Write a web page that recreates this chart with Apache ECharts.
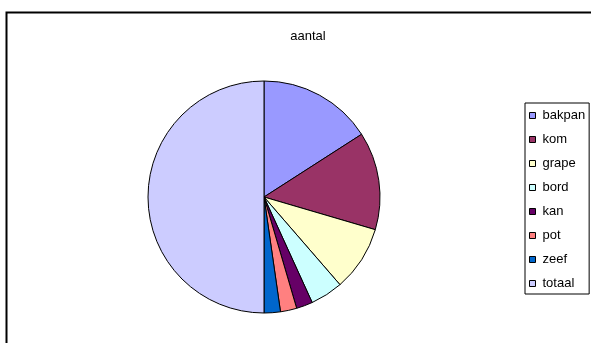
<!DOCTYPE html>
<html>
<head>
<meta charset="utf-8">
<script src="https://cdn.jsdelivr.net/npm/echarts@6/dist/echarts.min.js"></script>
<style>
html, body { margin: 0; padding: 0; background: #fff; }
#main { width: 591px; height: 343px; }
</style>
</head>
<body>
<div id="main"></div>
<script>
var names = ['bakpan', 'kom', 'grape', 'bord', 'kan', 'pot', 'zeef', 'totaal'];
var aantal = [14, 12, 8, 4, 2, 2, 2, 44];
var colors = ['#9999FF', '#993366', '#FFFFCC', '#CCFFFF', '#660066', '#FF8080', '#0066CC', '#CCCCFF'];

var myChart = echarts.init(document.getElementById('main'));
var pieData = names.map(function (n, i) {
    return { name: n, value: aantal[i], itemStyle: { color: colors[i] } };
});

var option = {
    animation: false,
    backgroundColor: '#fff',
    title: {
        text: 'aantal',
        left: 303,
        top: 25,
        textAlign: 'center',
        textStyle: { fontFamily: 'Liberation Sans', fontSize: 13, fontWeight: 'normal', color: '#000' }
    },
    graphic: [{
        type: 'rect',
        shape: { x: 6.5, y: 12.5, width: 600, height: 340 },
        style: { fill: null, stroke: '#000', lineWidth: 2 },
        silent: true
    }],
    legend: {
        orient: 'vertical',
        left: 525,
        top: 103,
        padding: [6, 4, 4, 4],
        borderColor: '#000',
        borderWidth: 1,
        backgroundColor: '#fff',
        itemWidth: 6,
        itemHeight: 6,
        itemGap: 11,
        icon: 'rect',
        itemStyle: { borderColor: '#000', borderWidth: 1 },
        textStyle: { fontFamily: 'Liberation Sans', fontSize: 13, color: '#000', lineHeight: 13, padding: [0, 0, 0, 2] },
        data: names
    },
    series: [{
        type: 'pie',
        center: [264, 197],
        radius: 116,
        startAngle: 90,
        clockwise: true,
        label: { show: false },
        labelLine: { show: false },
        emphasis: { disabled: true },
        itemStyle: { borderColor: '#000', borderWidth: 1 },
        data: pieData
    }]
};
myChart.setOption(option);
</script>
</body>
</html>
